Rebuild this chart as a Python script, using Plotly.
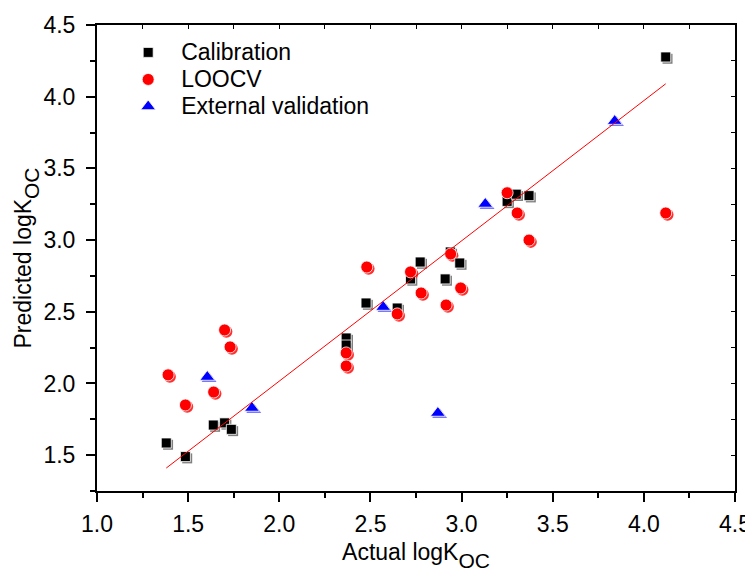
import plotly.graph_objects as go

# ---- data ----
cal_x = [1.38, 1.485, 1.638, 1.70, 1.737, 2.367, 2.367, 2.476, 2.647, 2.72, 2.773, 2.91, 2.938, 2.99, 3.25, 3.30, 3.37, 4.12]
cal_y = [1.585, 1.49, 1.71, 1.725, 1.68, 2.317, 2.268, 2.561, 2.526, 2.729, 2.847, 2.729, 2.917, 2.84, 3.27, 3.32, 3.31, 4.277]
loo_x = [1.39, 1.485, 1.64, 1.70, 1.73, 2.367, 2.367, 2.48, 2.647, 2.72, 2.778, 2.915, 2.94, 2.995, 3.25, 3.305, 3.37, 4.12]
loo_y = [2.06, 1.85, 1.94, 2.373, 2.255, 2.213, 2.122, 2.812, 2.485, 2.778, 2.631, 2.547, 2.903, 2.666, 3.33, 3.189, 3.00, 3.189]
ext_x = [1.605, 1.85, 2.57, 2.87, 3.13, 3.84]
ext_y = [2.045, 1.829, 2.533, 1.794, 3.252, 3.83]
fit_x = [1.38, 4.12]
fit_y = [1.41, 4.09]
series_names = ["Calibration", "LOOCV", "External validation"]

# ---- layout geometry (page body adds an 8 px offset) ----
W, H = 745, 564
ML, MR, MT, MB = 89, 18, 17, 81
X_RANGE = [1.0, 4.5]
Y_RANGE = [1.25, 4.5]
FONT = "Liberation Sans, Arial, sans-serif"
TXT = 23

# shadow offset (≈2 px right/down) expressed in data units
px_x = (X_RANGE[1] - X_RANGE[0]) / (W - ML - MR)
px_y = (Y_RANGE[1] - Y_RANGE[0]) / (H - MT - MB)
SDX, SDY = 1.8 * px_x, -1.8 * px_y


def shifted(vals, d):
    return [v + d for v in vals]


def big(s):
    return f'<span style="font-size:{TXT}px">{s}</span>'


fig = go.Figure()

# shadows
fig.add_trace(go.Scatter(x=shifted(cal_x, SDX), y=shifted(cal_y, SDY), mode="markers", showlegend=False,
                         hoverinfo="skip", marker=dict(symbol="square", size=10, color="#808080")))
fig.add_trace(go.Scatter(x=shifted(loo_x, SDX), y=shifted(loo_y, SDY), mode="markers", showlegend=False,
                         hoverinfo="skip", marker=dict(symbol="circle", size=12, color="#ff3030")))
fig.add_trace(go.Scatter(x=shifted(ext_x, SDX), y=shifted(ext_y, SDY), mode="markers", showlegend=False,
                         hoverinfo="skip", marker=dict(symbol="triangle-up", size=13, color="#7878ff")))

# main series
fig.add_trace(go.Scatter(x=cal_x, y=cal_y, mode="markers", name=big(series_names[0]),
                         marker=dict(symbol="square", size=10, color="black", line=dict(color="white", width=0.8))))
fig.add_trace(go.Scatter(x=loo_x, y=loo_y, mode="markers", name=big(series_names[1]),
                         marker=dict(symbol="circle", size=12, color="#ff0000", line=dict(color="white", width=0.8))))
fig.add_trace(go.Scatter(x=ext_x, y=ext_y, mode="markers", name=big(series_names[2]),
                         marker=dict(symbol="triangle-up", size=13, color="#0000ff", line=dict(color="white", width=0.8))))

# regression line
fig.add_trace(go.Scatter(x=fit_x, y=fit_y, mode="lines", showlegend=False, hoverinfo="skip",
                         line=dict(color="#ff0000", width=1)))

# dummy trace to anchor the mirror axes
fig.add_trace(go.Scatter(x=[None], y=[None], xaxis="x2", yaxis="y2", showlegend=False, hoverinfo="skip"))

axis_common = dict(showgrid=False, zeroline=False, showline=True, linecolor="black", linewidth=2,
                   automargin=False,
                   ticks="outside", ticklen=9, tickwidth=2, tickcolor="black",
                   tickfont=dict(family=FONT, size=TXT, color="black"), tickformat=".1f",
                   minor=dict(ticks="outside", ticklen=5, tickwidth=1.5, tickcolor="black", dtick=0.25))

mirror_common = dict(showgrid=False, zeroline=False, showline=True, automargin=False,
                     linecolor="black", linewidth=2, ticks="inside", ticklen=4, tickwidth=1,
                     tickcolor="black", dtick=0.25, showticklabels=False)

sub = '<sub><sub><span style="font-size:21px">OC</span></sub></sub>'

fig.update_layout(
    width=W, height=H, autosize=False,
    margin=dict(l=ML, r=MR, t=MT, b=MB, autoexpand=False),
    paper_bgcolor="white", plot_bgcolor="white",
    font=dict(family=FONT, size=TXT, color="black"),
    xaxis=dict(range=X_RANGE, tick0=1.0, dtick=0.5, ticklabelstandoff=2,
               title=dict(text="Actual logK" + sub, font=dict(family=FONT, size=TXT, color="black"), standoff=14),
               **axis_common),
    yaxis=dict(range=Y_RANGE, tick0=1.5, dtick=0.5, ticklabelstandoff=6,
               title=dict(text="Predicted logK" + sub, font=dict(family=FONT, size=TXT, color="black"), standoff=5),
               **axis_common),
    xaxis2=dict(range=X_RANGE, overlaying="x", side="top", tick0=1.0, **mirror_common),
    yaxis2=dict(range=Y_RANGE, overlaying="y", side="right", tick0=1.25, anchor="x2", **mirror_common),
    legend=dict(x=0.0285, y=0.981, xanchor="left", yanchor="top", bgcolor="rgba(0,0,0,0)",
                font=dict(family=FONT, size=18.5, color="black"), itemwidth=56, tracegroupgap=0),
    showlegend=True,
)

fig.write_html("out.html")
